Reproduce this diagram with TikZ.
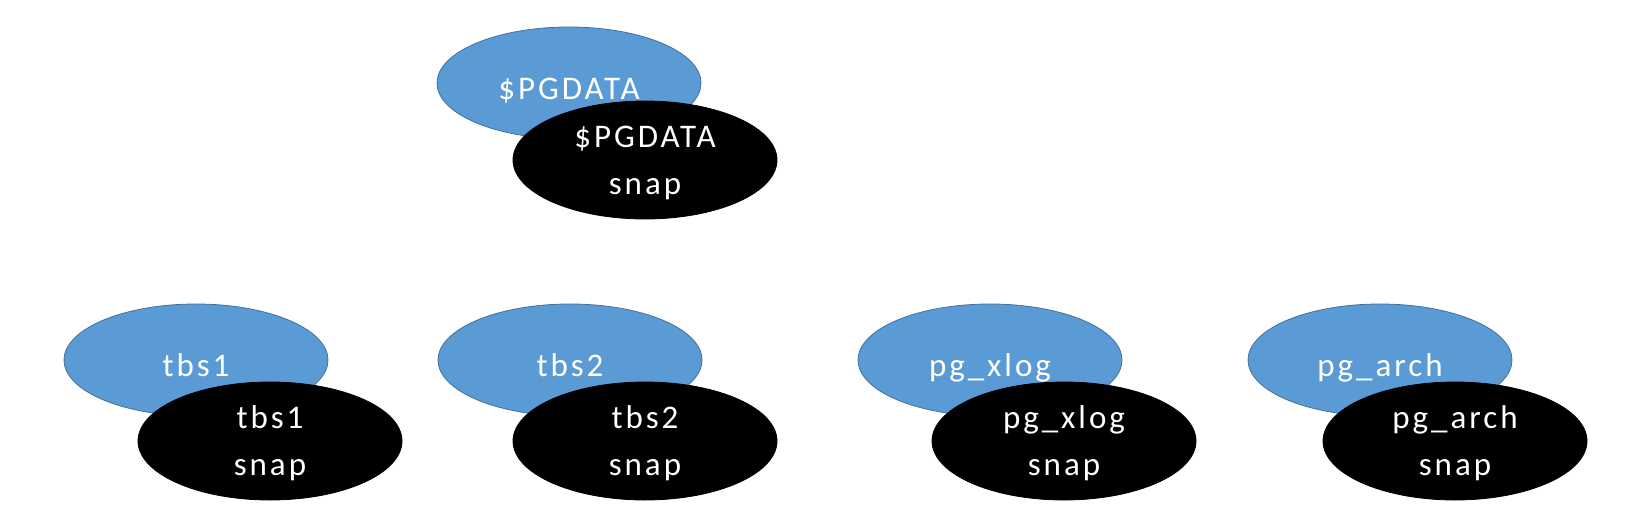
\documentclass[tikz,border=0pt]{standalone}
\usepackage{fontspec}
\setmainfont{Carlito}
\newfontfamily\lblfont[LetterSpace=9]{Carlito}
\usetikzlibrary{shapes.geometric}
\definecolor{dirblue}{HTML}{5B9BD5}
\definecolor{dirline}{HTML}{41719C}
\tikzset{
  dir/.style={ellipse, fill=dirblue, draw=dirline, line width=0.8pt, minimum width=264pt, minimum height=112pt, inner sep=0pt, text=white, font=\lblfont\fontsize{33}{47}\selectfont, align=center, text height=32pt, text depth=0pt},
  snapshot/.style={ellipse, fill=black, draw=black, line width=0.8pt, minimum width=264pt, minimum height=118pt, inner sep=0pt, text=white, font=\lblfont\fontsize{33}{47}\selectfont, align=center, text height=68pt, text depth=0pt}
}
\begin{document}
\begin{tikzpicture}[x=1pt,y=-1pt]
\useasboundingbox (0,0) rectangle (1628,520);
\fill[white] (0,0) rectangle (1628,520);
% top
\node[dir] (pgdata) at (569,83) {\$PGDATA};
\node[snapshot] (pgdatasnap) at (645,160) {\$PGDATA\\snap};
% bottom row
\node[dir] (tbs1) at (196,360) {tbs1};
\node[snapshot] (tbs1snap) at (270,441) {tbs1\\snap};
\node[dir] (tbs2) at (570,360) {tbs2};
\node[snapshot] (tbs2snap) at (645,441) {tbs2\\snap};
\node[dir] (xlog) at (990,360) {pg\_xlog};
\node[snapshot] (xlogsnap) at (1064,441) {pg\_xlog\\snap};
\node[dir] (arch) at (1380,360) {pg\_arch};
\node[snapshot] (archsnap) at (1455,441) {pg\_arch\\snap};
\end{tikzpicture}
\end{document}
